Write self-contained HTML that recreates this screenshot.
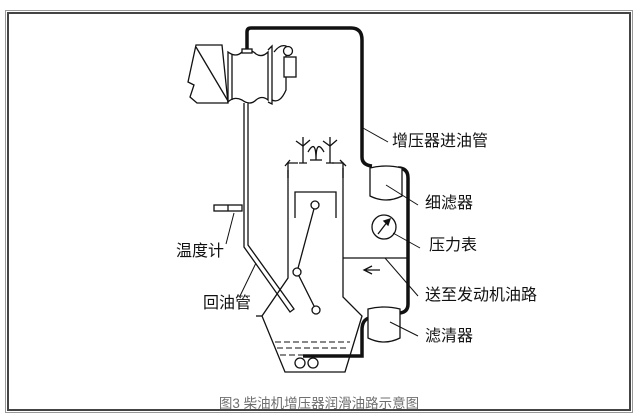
<!DOCTYPE html>
<html><head><meta charset="utf-8"><style>
html,body{margin:0;padding:0;background:#fff;}
body{width:638px;height:418px;position:relative;overflow:hidden;font-family:"Liberation Sans","Noto Sans CJK SC",sans-serif;}
.o{position:absolute;left:5px;top:10px;width:628px;height:403px;border:1px solid #999;box-sizing:border-box;}
.i{position:absolute;left:7px;top:12px;width:624px;height:399px;border:2px solid #444;box-sizing:border-box;}
.t{position:absolute;font-size:16px;color:#111;white-space:nowrap;line-height:1;}
.cap{position:absolute;left:0;width:638px;top:392px;text-align:center;font-size:13.5px;color:#6f6f6f;}
</style></head><body>
<div class="o"></div><div class="i"></div>
<svg width="638" height="418" style="position:absolute;left:0;top:0" fill="none" stroke="#111" stroke-width="1.3">
<path d="M247 52 V32 Q247 28 251 28 H351 Q362 28 362 40 V157 Q362 165 372 166" stroke-width="3.5"/>
<path d="M398 168 Q408 168 408 178 V304 Q408 312 400 313" stroke-width="3.5"/>
<path d="M369 318 Q362 320 362 330 V356 H303" stroke-width="3.5"/>
<path d="M196 45 H222 L228 103 H197 L190 97 L194 85 L188 82 Z" fill="#fff"/>
<path d="M196 47 L228 101"/>
<path d="M228 52 Q236 58 242 52 Q250 48 256 54 Q262 58 268 52 V100 Q262 95 256 100 Q250 106 242 100 Q234 96 228 102 Z" fill="#fff"/>
<line x1="232" y1="54" x2="232" y2="100"/>
<rect x="242" y="49" width="10" height="4" fill="#fff"/>
<path d="M268 50 L272 46 V104 L268 102"/>
<path d="M274 52 Q280 44 286 46 V90 Q280 104 272 100"/>
<circle cx="288" cy="51" r="4.5" fill="#fff"/>
<rect x="284" y="57" width="12" height="20" fill="#fff"/>
<path d="M244 103 V247 L290 312 L294 309 L248 245 V103" fill="#fff"/>
<rect x="214" y="205" width="28" height="6" fill="#fff"/>
<line x1="228" y1="205" x2="228" y2="211"/>
<line x1="234" y1="213" x2="226" y2="244" stroke-width="1"/>
<line x1="256" y1="263" x2="240" y2="296" stroke-width="1"/>
<path d="M288 178 V163 H298 M343 178 V163 H332"/>
<path d="M303 137 V163 M299 163 H307 M330 137 V163 M326 163 H334"/>
<path d="M296 141 L303 146 L310 140 M323 141 L330 146 L337 140" />
<path d="M308 152 Q316 138 316 160 Q316 138 324 152"/>
<line x1="310" y1="160" x2="322" y2="160"/>
<path d="M285 166 L290 160 M346 166 L340 160"/>
<path d="M288 170 V278 L262 316 L285 372 H345 L362 316 L343 297 V168"/>
<path d="M262 316 H256"/>
<line x1="343" y1="258" x2="408" y2="258"/>
<path d="M380 270 H365 M372 266 L364 270 L372 274"/>
<path d="M295 218 V192 H336 V218"/>
<line x1="315" y1="205" x2="297" y2="272"/><line x1="297" y1="272" x2="316" y2="310"/>
<circle cx="315" cy="205" r="4" fill="#fff"/><circle cx="297" cy="272" r="4" fill="#fff"/><circle cx="316" cy="310" r="4" fill="#fff"/>
<path d="M275 342 H350 M277 348 H348 M280 355 H346" stroke-dasharray="6 3" stroke-width="1"/>
<circle cx="300" cy="363" r="5" fill="#fff"/><circle cx="313" cy="363" r="5" fill="#fff"/>
<path d="M370 168 Q386 164 402 168 V196 Q386 204 370 196 Z" fill="#fff"/>
<path d="M368 309 Q384 305 400 309 V338 Q384 346 368 338 Z" fill="#fff"/>
<circle cx="384" cy="227" r="12" fill="#fff"/>
<path d="M378 234 L388 221 M384 221 L390 219 L388 225 Z" fill="#111"/>
<g stroke-width="1"><line x1="363" y1="128" x2="388" y2="142"/><line x1="386" y1="185" x2="418" y2="205"/>
<line x1="393" y1="233" x2="420" y2="248"/><line x1="385" y1="258" x2="418" y2="296"/><line x1="390" y1="322" x2="418" y2="336"/></g>
</svg>
<div class="t" style="left:392px;top:134px">增压器进油管</div>
<div class="t" style="left:425px;top:196px">细滤器</div>
<div class="t" style="left:429px;top:238px">压力表</div>
<div class="t" style="left:425px;top:288px">送至发动机油路</div>
<div class="t" style="left:425px;top:329px">滤清器</div>
<div class="t" style="left:176px;top:244px">温度计</div>
<div class="t" style="left:203px;top:296px">回油管</div>
<div class="cap">图3 柴油机增压器润滑油路示意图</div>
</body></html>
